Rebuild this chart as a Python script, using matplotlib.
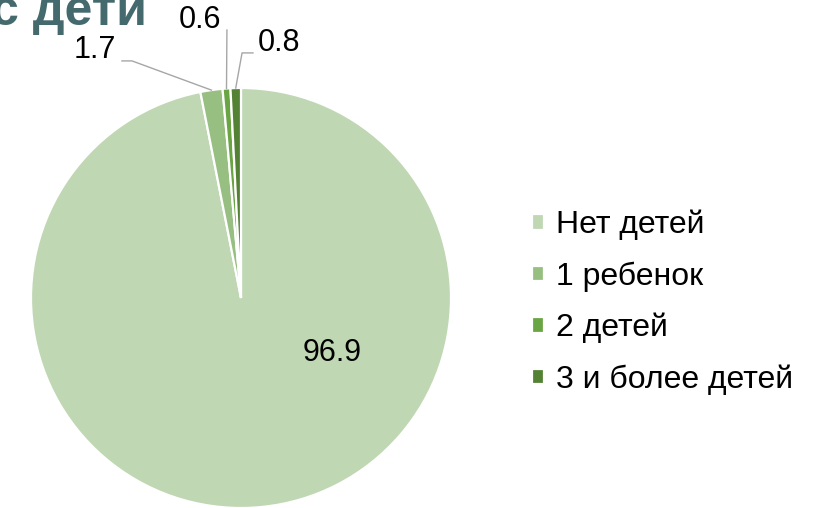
import numpy as np
import matplotlib
matplotlib.use("Agg")
import matplotlib.pyplot as plt

# Data
categories = ["Нет детей", "1 ребенок", "2 детей", "3 и более детей"]
shares = [96.9, 1.7, 0.6, 0.8]
colors = ["#c0d7b3", "#98bf82", "#6aa544", "#548235"]
title_text = "с дети"

plt.rcParams["font.family"] = ["Liberation Sans", "DejaVu Sans"]

fig = plt.figure(figsize=(8.18, 5.08), dpi=100)
ax = fig.add_axes([31 / 818, 0.0, 420 / 818, 420 / 508])

wedges, _ = ax.pie(shares, colors=colors, startangle=90, counterclock=False,
                   wedgeprops=dict(edgecolor="white", linewidth=1.6))
ax.set_xlim(-1, 1)
ax.set_ylim(-1, 1)
ax.set_aspect("equal")
ax.axis("off")

# label for the big slice sits inside
ax.text(0.433, -0.264, f"{shares[0]:.1f}", ha="center", va="center", fontsize=22)

# small slices get leader lines: (text position, elbow, line end)
label_pos = {
    1: ((-0.695, 1.181), (-0.519, 1.129), (-0.567, 1.129)),
    2: ((-0.195, 1.324), (-0.067, 1.276), (-0.067, 1.276)),
    3: ((0.181, 1.214), (0.005, 1.167), (0.057, 1.167)),
}
for i, (txt_xy, elbow, line_end) in label_pos.items():
    w = wedges[i]
    mid = np.deg2rad((w.theta1 + w.theta2) / 2)
    px, py = np.cos(mid), np.sin(mid)
    ax.plot([px, elbow[0], line_end[0]], [py, elbow[1], line_end[1]],
            color="#a6a6a6", lw=1.0, clip_on=False)
    ax.text(txt_xy[0], txt_xy[1], f"{shares[i]:.1f}", ha="center", va="center",
            fontsize=22)

leg = fig.legend(wedges, categories, loc="center left",
                 bbox_to_anchor=(532 / 818, 1 - 302.5 / 508), frameon=False,
                 fontsize=23, handlelength=0.376, handleheight=0.376,
                 handletextpad=0.376, labelspacing=0.66, borderpad=0,
                 borderaxespad=0)

fig.text(147 / 818, 1 - 25 / 508, title_text, ha="right", va="baseline",
         fontsize=36, fontweight="bold", color="#456a6e")

fig.savefig("out.png", dpi=100)
